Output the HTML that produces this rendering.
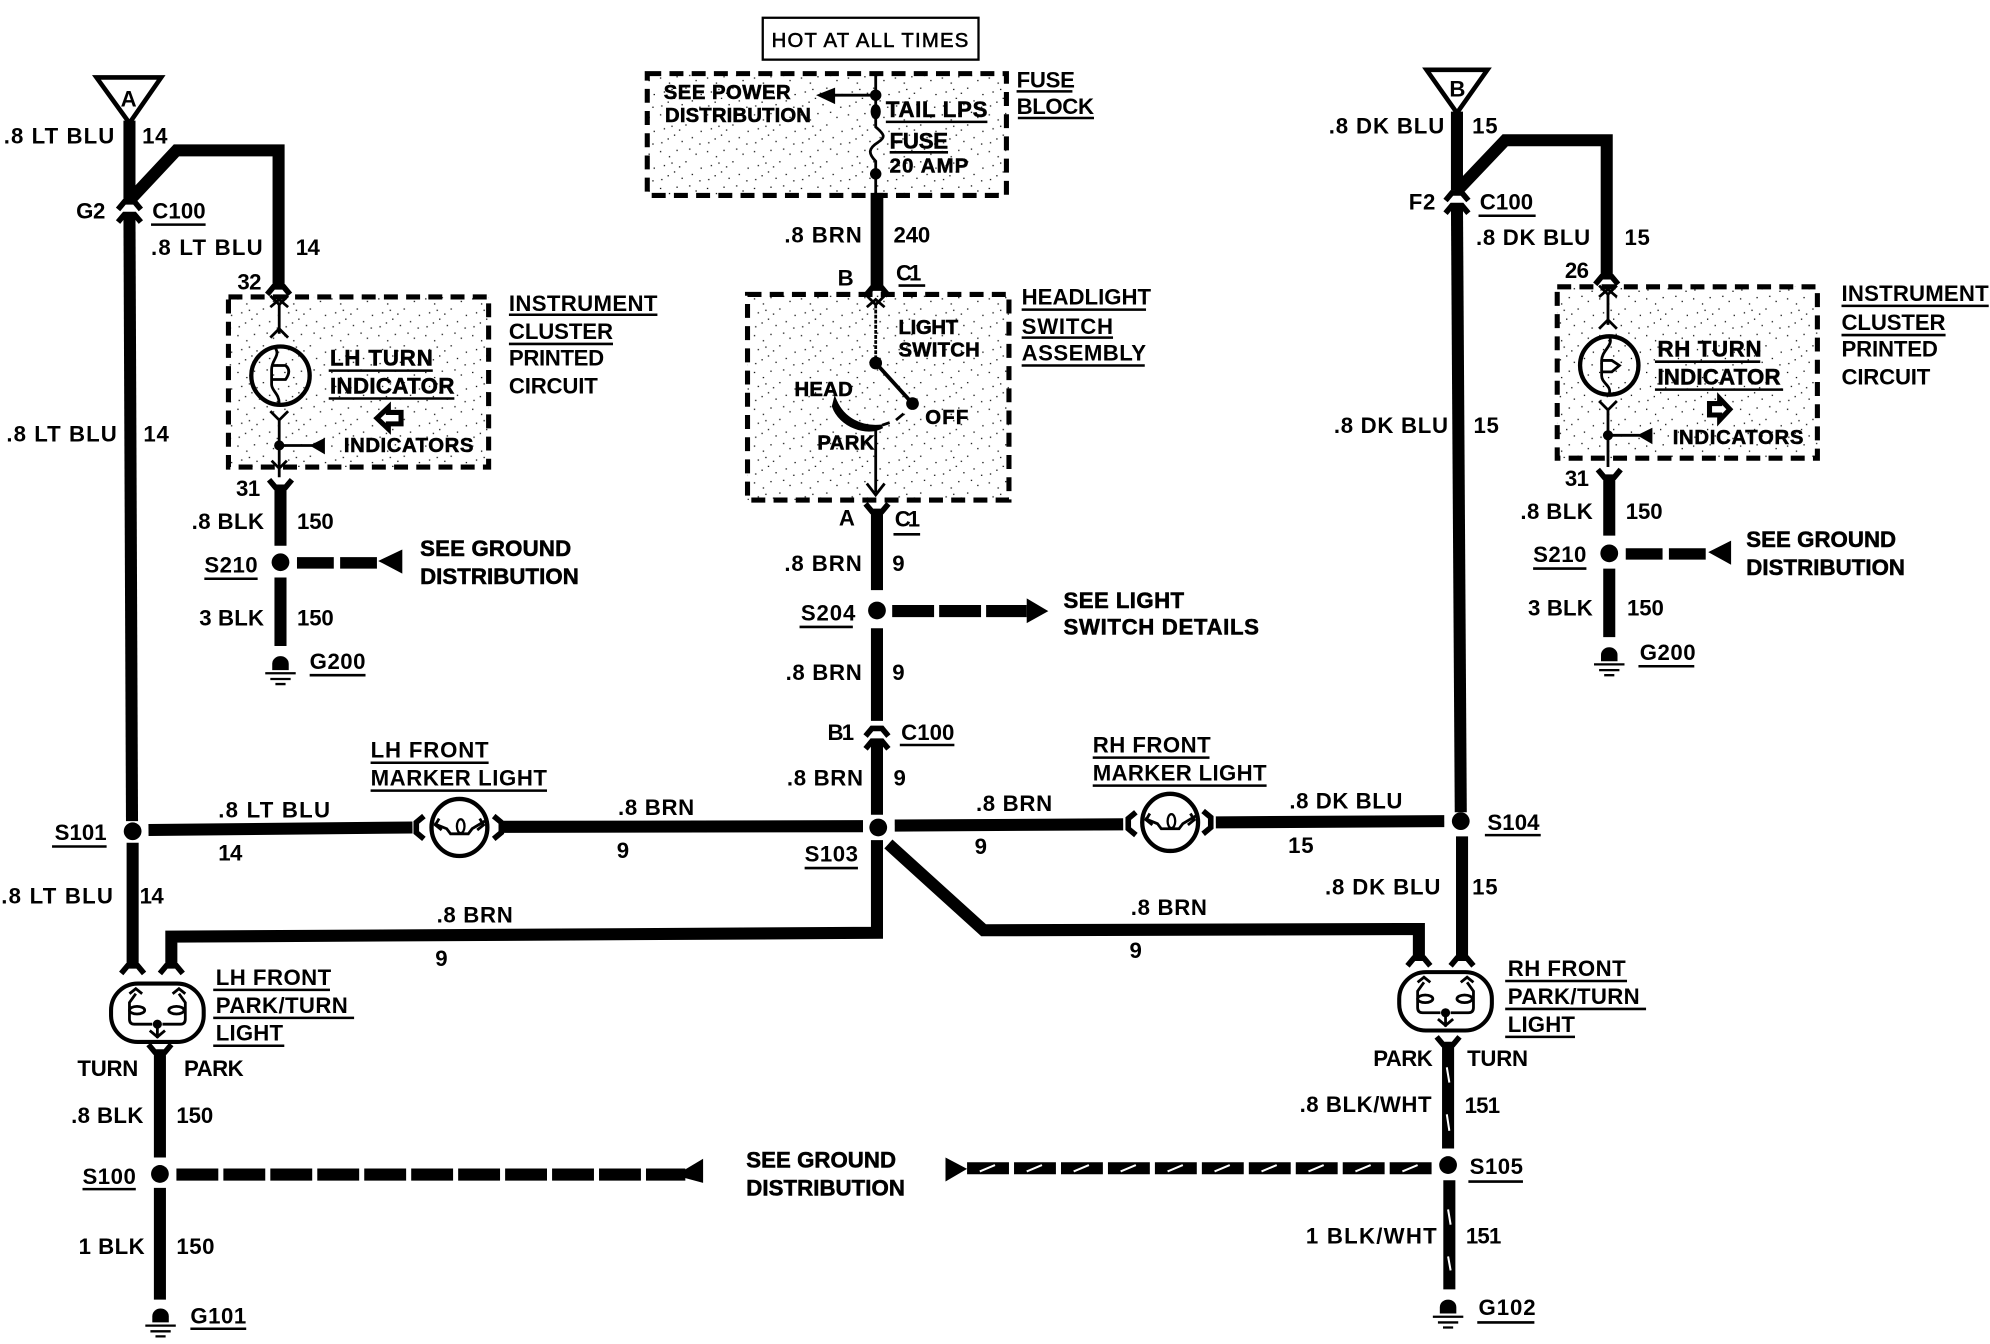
<!DOCTYPE html>
<html><head><meta charset="utf-8"><title>Wiring diagram</title>
<style>
html,body{margin:0;padding:0;background:#fff}
svg{display:block}
text{font-family:"Liberation Sans",sans-serif;font-weight:bold;font-size:17.5px;fill:#000}
text.h{stroke:#000;stroke-width:.45}
.w{fill:none;stroke:#000;stroke-width:9.5;stroke-linejoin:miter}
.t{fill:none;stroke:#000;stroke-width:2.2}
.u{stroke:#000;stroke-width:2;fill:none}
.b{fill:url(#st);stroke:#000;stroke-width:4;stroke-dasharray:11 6.5}
.s{stroke:#fff;stroke-width:1.6;fill:none}
</style></head><body>
<svg xmlns="http://www.w3.org/2000/svg" width="1990" height="1344" viewBox="0 0 1568 1059">
<defs>
<pattern id="st" width="37" height="29" patternUnits="userSpaceOnUse">
<g fill="#000">
<rect x="2" y="3" width="1" height="1"/><rect x="9" y="7" width="1" height="1"/><rect x="15" y="2" width="1" height="1"/><rect x="22" y="11" width="1" height="1"/><rect x="30" y="5" width="1" height="1"/><rect x="34" y="16" width="1" height="1"/><rect x="5" y="14" width="1" height="1"/><rect x="13" y="19" width="1" height="1"/><rect x="19" y="24" width="1" height="1"/><rect x="27" y="21" width="1" height="1"/><rect x="3" y="25" width="1" height="1"/><rect x="33" y="26" width="1" height="1"/><rect x="25" y="1" width="1" height="1"/><rect x="11" y="12" width="1" height="1"/><rect x="17" y="15" width="1" height="1"/><rect x="8" y="22" width="1" height="1"/>
</g></pattern>
<path id="f" d="M-9,6 L-4,0 L4,0 L9,6" fill="none" stroke="#000" stroke-width="4.4"/>
<path id="x" d="M-7,4 L0,-2 L7,4 M-7,-5 L0,2 L7,-5" fill="none" stroke="#000" stroke-width="2.2"/>
<g id="g"><path d="M-6.5,11 V6 A6.5,6 0 0 1 6.5,6 V11 Z" fill="#000"/><path d="M-12,13.5 H12 M-8,18 H8 M-4,22 H4" stroke="#000" stroke-width="1.8" fill="none"/></g>
<g id="ml"><ellipse cx="0" cy="0" rx="22" ry="22.5" fill="#fff" stroke="#000" stroke-width="3.4"/><path d="M-20,-3 L-10,1 L-7,5 H7 L10,1 L20,-5 M-16,-7 L-19,-2 L-14,2 M16,-7 L19,-2 L14,2" class="t"/><ellipse cx="1" cy="-1" rx="3" ry="5.5" fill="#fff" stroke="#000" stroke-width="1.8"/></g>
<g id="pl"><rect x="-36.5" y="-23" width="73" height="46" rx="21" fill="#fff" stroke="#000" stroke-width="3.2"/><path d="M-17,-15 L-22,-8 V5 Q-22,9 -18,9 H-4 M17,-15 L22,-8 V5 Q22,9 18,9 H4" class="t"/><path d="M-22,-15 L-17,-19 L-12,-15 M22,-15 L17,-19 L12,-15" class="t"/><ellipse cx="-16" cy="-2" rx="6" ry="3" fill="#fff" stroke="#000" stroke-width="2.2"/><ellipse cx="15" cy="-2" rx="6" ry="3" fill="#fff" stroke="#000" stroke-width="2.2"/><circle cx="0" cy="9" r="3.6" fill="#000"/><path d="M-6,14 L0,19 L6,14 M0,10 V20" class="t"/></g>
</defs>
<rect width="1568" height="1059" fill="#fff"/>

<!-- dashed boxes -->
<rect class="b" x="180" y="234" width="205" height="134"/>
<rect class="b" x="510" y="58" width="283" height="96"/>
<rect class="b" x="589" y="232" width="206" height="162"/>
<rect class="b" x="1227" y="226" width="205" height="135"/>

<!-- HOT box -->
<rect x="601" y="14" width="170" height="33" fill="#fff" stroke="#000" stroke-width="1.8"/>

<!-- triangles -->
<path d="M76,61 H127 L102,97 Z" fill="#fff" stroke="#000" stroke-width="3.6"/>
<path d="M1124,55 H1172 L1148,89 Z" fill="#fff" stroke="#000" stroke-width="3.6"/>

<!-- left main -->
<path class="w" d="M102,95 V158"/>
<path class="w" d="M102,158 L139,118.5 H219.5 V226"/>
<path class="w" d="M102,171 L104,647"/>
<path class="w" d="M104.5,664 V761"/>
<use href="#f" x="102" y="159"/><use href="#f" x="102" y="169"/>
<use href="#f" x="219.5" y="226"/>
<circle cx="104.5" cy="655" r="7"/>
<!-- LH marker row -->
<path class="w" d="M117,654 L325,652"/>
<path class="w" d="M397,651.5 L680,651"/>
<use href="#f" transform="translate(328,652) rotate(-90)"/>
<use href="#f" transform="translate(395,652) rotate(90)"/>
<use href="#ml" x="362" y="652"/>
<!-- S103 -->
<circle cx="692" cy="652" r="7"/>
<path class="w" d="M705,650.5 L885,649.5"/>
<path class="w" d="M958,648 L1138,647"/>
<use href="#f" transform="translate(889,649) rotate(-90)"/>
<use href="#f" transform="translate(954,648) rotate(90)"/>
<use href="#ml" x="922" y="648"/>
<circle cx="1151" cy="647" r="7"/>
<!-- lower brown -->
<path class="w" d="M691,662 V735 L135,738 V762"/>
<path class="w" d="M700,665 L775,733 L1118,732 V755"/>
<use href="#f" x="104.5" y="761"/><use href="#f" x="135" y="761"/>
<use href="#f" x="1118" y="755"/><use href="#f" x="1152" y="755"/>
<!-- LH park light -->
<use href="#pl" x="124" y="798"/>
<use href="#f" transform="translate(126,829) rotate(180)"/>
<path class="w" d="M126,829 V912"/>
<circle cx="126" cy="925" r="7"/>
<path class="w" d="M126,936 V1024"/>
<use href="#g" x="126.5" y="1031"/>
<path d="M139,925.5 H540" stroke="#000" stroke-width="9.5" stroke-dasharray="33 4" fill="none"/>
<path d="M539,922 L554,913 V932 L539,928 Z"/>

<!-- right main -->
<path class="w" d="M1148,88 V150"/>
<path class="w" d="M1147.5,151 L1186,110.5 H1266 V218"/>
<path class="w" d="M1148,163 L1151,640"/>
<path class="w" d="M1152,659 V755"/>
<use href="#f" x="1148" y="152"/><use href="#f" x="1148" y="162"/>
<use href="#f" x="1266" y="218"/>
<use href="#pl" x="1139" y="789"/>
<use href="#f" transform="translate(1141,823) rotate(180)"/>
<path class="w" d="M1141,823 V905"/>
<circle cx="1141" cy="918" r="7"/>
<path class="w" d="M1142,930 V1016"/>
<use href="#g" x="1141" y="1024"/>
<path d="M1140,841 L1142,853 M1140,878 L1142,891 M1141,953 L1143,965 M1141,990 L1143,1001" class="s"/>
<path d="M762,920.5 H1128" stroke="#000" stroke-width="9.5" stroke-dasharray="33 4" fill="none"/>
<path d="M745,912 L762,921 L745,931 Z"/>
<path d="M772,923 L784,918 M809,923 L821,918 M846,923 L858,918 M883,923 L895,918 M920,923 L932,918 M957,923 L969,918 M994,923 L1006,918 M1031,923 L1043,918 M1068,923 L1080,918 M1105,923 L1117,918" class="s"/>

<!-- centre -->
<path class="w" d="M691,152 V226" style="stroke-width:10"/>
<use href="#f" x="691" y="227"/>
<use href="#f" transform="translate(691,403) rotate(180)"/>
<path class="w" d="M691,402 V465"/>
<circle cx="691" cy="481" r="7"/>
<path class="w" d="M691,495 V568"/>
<use href="#f" x="691" y="574"/><use href="#f" x="691" y="584"/>
<path class="w" d="M691,584 V642"/>
<path d="M703,481.5 H809" stroke="#000" stroke-width="9.5" stroke-dasharray="33 4" fill="none"/>
<path d="M809,471.5 L826,481.5 L809,491 Z"/>

<!-- fuse internals -->
<path class="t" d="M690,57 V100 C697,106 698,108 692,112 C684,117 684,121 690,127 V154"/>
<path class="t" d="M690,75 H655"/>
<path d="M643,75 L658,69 V82 Z"/>
<circle cx="690" cy="75" r="4.5"/>
<ellipse cx="690" cy="88" rx="4" ry="6"/>
<circle cx="690" cy="137" r="4.5"/>
<!-- switch internals -->
<use href="#x" x="690" y="238"/>
<path d="M690,240 V286" class="t" stroke-dasharray="3 1"/>
<circle cx="690" cy="286" r="5"/>
<path class="t" d="M690,286 L719,318" style="stroke-width:3"/>
<circle cx="719" cy="318" r="5"/>
<path d="M658,316 C664,330 678,338 695,336 C683,343 662,335 657,320 Z" stroke="#000" stroke-width="3"/>
<path class="t" d="M695,335 L701,333 M706,331 L712,326"/>
<path class="t" d="M690,336 V388"/>
<path class="t" d="M683,381 L690,390 L697,381"/>

<!-- LH instrument -->
<use href="#x" x="220" y="238"/>
<path class="t" d="M220,240 V263"/>
<path class="t" d="M213,266 L220,259 L227,266"/>
<ellipse cx="221" cy="296" rx="23" ry="23" fill="none" stroke="#000" stroke-width="3.4"/>
<path class="t" d="M216,273 C222,280 214,283 214,291 V303 C214,308 220,310 220,318"/>
<path class="t" d="M214,288 H225 Q230,292 225,299 H214"/>
<path class="t" d="M213,324 L220,331 L227,324 M220,331 V376"/>
<circle cx="220" cy="351" r="4"/>
<path class="t" d="M220,351 H246"/>
<path d="M244,351 L256,345 V358 Z"/>
<path d="M214,363 L220,369 L226,363" class="t"/>
<path d="M297,329.5 L306,321 V325 H316 V334 H306 V338 Z" fill="#fff" stroke="#000" stroke-width="4"/>
<use href="#f" transform="translate(221,384) rotate(180)"/>
<path class="w" d="M221,384 V430"/>
<circle cx="221" cy="443" r="7"/>
<path class="w" d="M221,455 V509"/>
<use href="#g" x="221" y="517"/>
<path d="M234,443.5 H300" stroke="#000" stroke-width="9" stroke-dasharray="29 5" fill="none"/>
<path d="M298,442 L317,433 V452 Z"/>

<!-- RH instrument -->
<use href="#x" x="1267" y="230"/>
<path class="t" d="M1267,232 V256"/>
<path class="t" d="M1260,259 L1267,252 L1274,259"/>
<ellipse cx="1268" cy="288" rx="23" ry="23" fill="none" stroke="#000" stroke-width="3.4"/>
<path class="t" d="M1268,265 C1272,272 1262,276 1262,284 V296 C1262,302 1270,304 1268,310"/>
<path class="t" d="M1262,284 H1270 L1276,288 L1270,293 H1262"/>
<path class="t" d="M1260,316 L1267,323 L1274,316 M1267,323 V368"/>
<circle cx="1267" cy="343" r="4"/>
<path class="t" d="M1267,343 H1292"/>
<path d="M1290,343 L1302,337 V350 Z"/>
<path d="M1347,318 H1355 V314 L1363,322.5 L1355,331 V327 H1347 Z" fill="#fff" stroke="#000" stroke-width="4"/>
<use href="#f" transform="translate(1268,376) rotate(180)"/>
<path class="w" d="M1268,376 V422"/>
<circle cx="1268" cy="436" r="7"/>
<path class="w" d="M1268,448 V502"/>
<use href="#g" x="1268" y="510"/>
<path d="M1281,436.5 H1347" stroke="#000" stroke-width="9" stroke-dasharray="29 5" fill="none"/>
<path d="M1346,435 L1364,426 V445 Z"/>

<!-- underlines -->
<path class="u" d="M119,177H162 M401,248H518 M401,271H483 M259,292H341 M259,314H358 M161,456H203 M244,532H288 M698,96H778 M701,120H747 M801,72H845 M802,93H862 M708,225H729 M805,244H903 M805,266H877 M805,288H902 M704,421H725 M630,494H672 M709,587H752 M292,601H385 M292,623H431 M861,597H953 M861,619H998 M634,684H676 M41,667H84 M1170,658H1214 M168,780H260 M168,802H279 M168,824H224 M1186,773H1282 M1186,795H1297 M1186,817H1241 M65,937H107 M150,1047H194 M1165,170H1210 M1451,241H1567 M1451,264H1533 M1304,285H1387 M1304,307H1405 M1208,448H1250 M1291,525H1335 M1157,931H1200 M1164,1042H1209"/>

<!-- text -->
<text x="95" y="84" textLength="13">A</text>
<text x="1142" y="76" textLength="13">B</text>
<text x="3" y="113" textLength="87">.8 LT BLU</text>
<text x="112" y="113" textLength="20">14</text>
<text x="60" y="172" textLength="23">G2</text>
<text x="120" y="172" textLength="42">C100</text>
<text x="119" y="201" textLength="88">.8 LT BLU</text>
<text x="233" y="201" textLength="19">14</text>
<text x="187" y="228" textLength="19">32</text>
<text x="401" y="245" textLength="117">INSTRUMENT</text>
<text x="401" y="267" textLength="82">CLUSTER</text>
<text x="401" y="310" textLength="70">CIRCUIT</text>
<text x="401" y="288" textLength="75">PRINTED</text>
<text class="h" x="260" y="288" textLength="81">LH TURN</text>
<text class="h" x="260" y="310" textLength="98">INDICATOR</text>
<text class="h" x="271" y="356" textLength="102" style="font-size:16px">INDICATORS</text>
<text x="5" y="348" textLength="87">.8 LT BLU</text>
<text x="113" y="348" textLength="20">14</text>
<text x="186" y="391" textLength="19">31</text>
<text x="151" y="417" textLength="57">.8 BLK</text>
<text x="234" y="417" textLength="29">150</text>
<text x="161" y="451" textLength="42">S210</text>
<text class="h" x="331" y="438" textLength="119">SEE GROUND</text>
<text class="h" x="331" y="460" textLength="125">DISTRIBUTION</text>
<text x="157" y="493" textLength="51">3 BLK</text>
<text x="234" y="493" textLength="29">150</text>
<text x="244" y="527" textLength="44">G200</text>

<text class="h" x="608" y="37" textLength="155" style="font-size:16px;font-weight:normal">HOT AT ALL TIMES</text>
<text class="h" x="523" y="78" textLength="100" style="font-size:16px">SEE POWER</text>
<text class="h" x="524" y="96" textLength="115" style="font-size:16px">DISTRIBUTION</text>
<text class="h" x="698" y="92" textLength="80">TAIL LPS</text>
<text class="h" x="701" y="117" textLength="46">FUSE</text>
<text class="h" x="701" y="136" textLength="62" style="font-size:16px">20 AMP</text>
<text x="801" y="69" textLength="46">FUSE</text>
<text x="801" y="90" textLength="61">BLOCK</text>
<text x="618" y="191" textLength="61">.8 BRN</text>
<text x="704" y="191" textLength="29">240</text>
<text x="660" y="225" textLength="12">B</text>
<text x="706" y="221" textLength="20">C1</text>
<text x="805" y="240" textLength="102">HEADLIGHT</text>
<text x="805" y="263" textLength="72">SWITCH</text>
<text x="805" y="284" textLength="98">ASSEMBLY</text>
<text class="h" x="708" y="263" textLength="47" style="font-size:16px">LIGHT</text>
<text class="h" x="708" y="281" textLength="64" style="font-size:16px">SWITCH</text>
<text class="h" x="626" y="312" textLength="46" style="font-size:16px">HEAD</text>
<text class="h" x="729" y="334" textLength="34" style="font-size:16px">OFF</text>
<text class="h" x="644" y="354" textLength="45" style="font-size:16px">PARK</text>
<text x="661" y="414" textLength="12">A</text>
<text x="705" y="415" textLength="20">C1</text>
<text x="618" y="450" textLength="61">.8 BRN</text>
<text x="703" y="450" textLength="10">9</text>
<text x="631" y="489" textLength="43">S204</text>
<text class="h" x="838" y="479" textLength="95">SEE LIGHT</text>
<text class="h" x="838" y="500" textLength="154">SWITCH DETAILS</text>
<text x="619" y="536" textLength="60">.8 BRN</text>
<text x="703" y="536" textLength="10">9</text>
<text x="652" y="583" textLength="21">B1</text>
<text x="710" y="583" textLength="42">C100</text>
<text x="620" y="619" textLength="60">.8 BRN</text>
<text x="704" y="619" textLength="10">9</text>
<text x="292" y="597" textLength="93">LH FRONT</text>
<text x="292" y="619" textLength="139">MARKER LIGHT</text>
<text x="861" y="593" textLength="93">RH FRONT</text>
<text x="861" y="615" textLength="137">MARKER LIGHT</text>
<text x="172" y="644" textLength="88">.8 LT BLU</text>
<text x="172" y="678" textLength="19">14</text>
<text x="487" y="642" textLength="60">.8 BRN</text>
<text x="486" y="676" textLength="10">9</text>
<text x="769" y="639" textLength="60">.8 BRN</text>
<text x="768" y="673" textLength="10">9</text>
<text x="1016" y="637" textLength="89">.8 DK BLU</text>
<text x="1015" y="672" textLength="20">15</text>
<text x="634" y="679" textLength="42">S103</text>
<text x="43" y="662" textLength="41">S101</text>
<text x="1" y="712" textLength="88">.8 LT BLU</text>
<text x="110" y="712" textLength="19">14</text>
<text x="344" y="727" textLength="60">.8 BRN</text>
<text x="343" y="761" textLength="10">9</text>
<text x="891" y="721" textLength="60">.8 BRN</text>
<text x="890" y="755" textLength="10">9</text>
<text x="1044" y="705" textLength="91">.8 DK BLU</text>
<text x="1160" y="705" textLength="20">15</text>
<text x="1172" y="654" textLength="41">S104</text>
<text x="170" y="776" textLength="91">LH FRONT</text>
<text x="170" y="798" textLength="104">PARK/TURN</text>
<text x="170" y="820" textLength="53">LIGHT</text>
<text x="1188" y="769" textLength="93">RH FRONT</text>
<text x="1188" y="791" textLength="104">PARK/TURN</text>
<text x="1188" y="813" textLength="53">LIGHT</text>

<text x="1047" y="105" textLength="91">.8 DK BLU</text>
<text x="1160" y="105" textLength="20">15</text>
<text x="1110" y="165" textLength="21">F2</text>
<text x="1166" y="165" textLength="42">C100</text>
<text x="1163" y="193" textLength="90">.8 DK BLU</text>
<text x="1280" y="193" textLength="20">15</text>
<text x="1233" y="219" textLength="19">26</text>
<text x="1451" y="237" textLength="116">INSTRUMENT</text>
<text x="1451" y="260" textLength="82">CLUSTER</text>
<text x="1451" y="281" textLength="76">PRINTED</text>
<text x="1451" y="303" textLength="70">CIRCUIT</text>
<text class="h" x="1306" y="281" textLength="82">RH TURN</text>
<text class="h" x="1306" y="303" textLength="97">INDICATOR</text>
<text class="h" x="1318" y="350" textLength="103" style="font-size:16px">INDICATORS</text>
<text x="1051" y="341" textLength="90">.8 DK BLU</text>
<text x="1161" y="341" textLength="20">15</text>
<text x="1233" y="383" textLength="19">31</text>
<text x="1198" y="409" textLength="57">.8 BLK</text>
<text x="1281" y="409" textLength="29">150</text>
<text x="1208" y="443" textLength="42">S210</text>
<text class="h" x="1376" y="431" textLength="118">SEE GROUND</text>
<text class="h" x="1376" y="453" textLength="125">DISTRIBUTION</text>
<text x="1204" y="485" textLength="51">3 BLK</text>
<text x="1282" y="485" textLength="29">150</text>
<text x="1292" y="520" textLength="44">G200</text>
<text x="1082" y="840" textLength="47">PARK</text>
<text x="1156" y="840" textLength="48">TURN</text>
<text x="1024" y="876" textLength="104">.8 BLK/WHT</text>
<text x="1154" y="877" textLength="28">151</text>
<text x="1158" y="925" textLength="42">S105</text>
<text x="1029" y="980" textLength="103">1 BLK/WHT</text>
<text x="1155" y="980" textLength="28">151</text>
<text x="1165" y="1036" textLength="45">G102</text>
<text x="61" y="848" textLength="48">TURN</text>
<text x="145" y="848" textLength="47">PARK</text>
<text x="56" y="885" textLength="57">.8 BLK</text>
<text x="139" y="885" textLength="29">150</text>
<text x="65" y="933" textLength="42">S100</text>
<text x="62" y="988" textLength="52">1 BLK</text>
<text x="139" y="988" textLength="30">150</text>
<text x="150" y="1043" textLength="44">G101</text>
<text class="h" x="588" y="920" textLength="118">SEE GROUND</text>
<text class="h" x="588" y="942" textLength="125">DISTRIBUTION</text>
</svg>
</body></html>
